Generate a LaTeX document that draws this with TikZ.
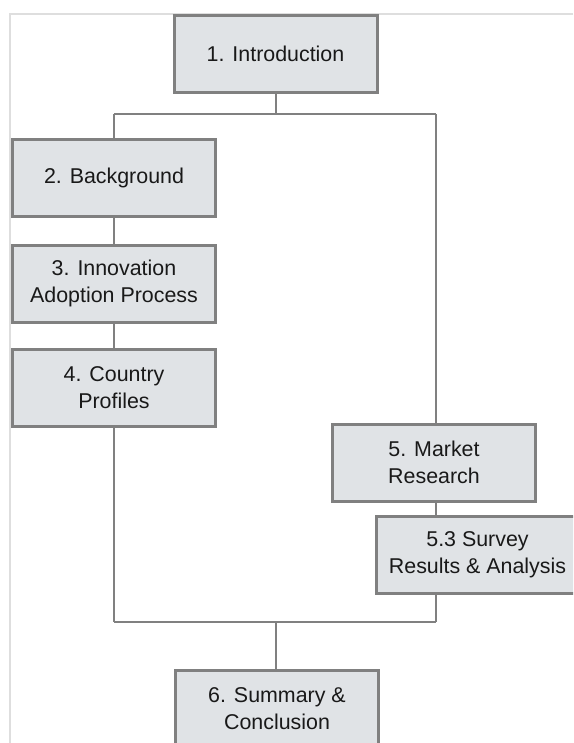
\documentclass[tikz,border=0pt]{standalone}
\usepackage{fontspec}
\setmainfont{Liberation Sans}

\definecolor{boxfill}{RGB}{224,227,230}
\definecolor{boxline}{RGB}{128,128,128}
\definecolor{frameline}{RGB}{222,222,222}
\definecolor{textcol}{RGB}{25,25,25}

\tikzset{
	chapter/.style = { draw = boxline, line width = 1.5pt, fill = boxfill,
		minimum width = 101.5pt, minimum height = 38.5pt, inner sep = 2pt,
		align = center, text = textcol, font = \fontsize{10.7}{13.6}\selectfont },
	link/.style = { draw = boxline, line width = 1pt }
}

\begin{document}
\begin{tikzpicture}[x=0.5pt, y=-0.5pt]
		\clip ( 0, 0 ) rectangle ( 573, 743 );

		% рамка
		\draw [frameline, line width = 0.75pt] ( 573, 14 ) -- ( 10, 14 ) -- ( 10, 743 );

		% главы
		\node [chapter] (intro)   at ( 275.5, 54 )    {1. Introduction};
		\node [chapter] (back)    at ( 114, 178 )     {2. Background};
		\node [chapter] (innov)   at ( 114, 283.5 )   {3. Innovation\\Adoption Process};
		\node [chapter] (country) at ( 114, 387.5 )   {4. Country\\Profiles};
		\node [chapter] (market)  at ( 434, 462.5 )   {5. Market\\Research};
		\node [chapter] (survey)  at ( 477.5, 554.5 ) {5.3 Survey\\Results \& Analysis};
		\node [chapter] (summary) at ( 277, 708.5 )   {6. Summary \&\\Conclusion};

		% шины
		\coordinate (topleft)  at ( 114, 114 );
		\coordinate (topright) at ( 436, 114 );
		\coordinate (botleft)  at ( 114, 622 );
		\coordinate (botright) at ( 436, 622 );

		% левая ветвь
		\draw [link] (intro.south) -- (intro.south |- topleft);
		\draw [link] (topleft) -- (topright);
		\draw [link] (topleft) -- (back.north);
		\draw [link] (back.south) -- (innov.north);
		\draw [link] (innov.south) -- (country.north);
		\draw [link] (country.south) -- (botleft);

		% правая ветвь
		\draw [link] (topright) -- (topright |- market.north);
		\draw [link] (market.south -| topright) -- (topright |- survey.north);
		\draw [link] (survey.south -| topright) -- (botright);

		% итог
		\draw [link] (botleft) -- (botright);
		\draw [link] (summary.north -| intro.south) -- (intro.south |- botleft);
	\end{tikzpicture}
\end{document}
